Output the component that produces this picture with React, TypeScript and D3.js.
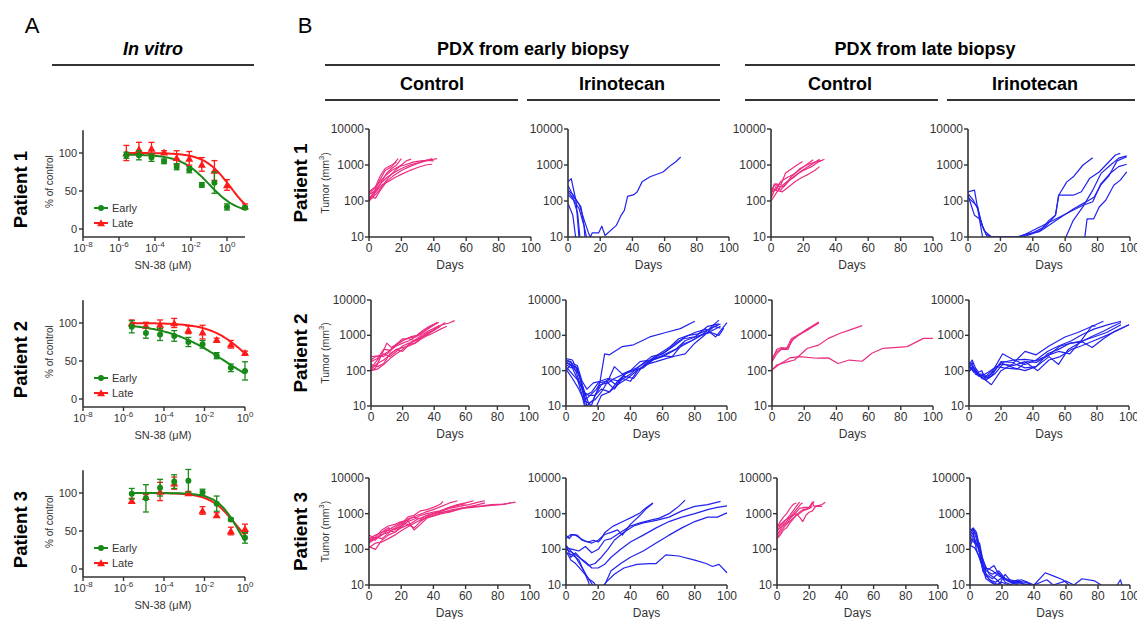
import React from "react";
import * as d3 from "d3";

type Pt = [number, number];
type Series = Pt[];

// ---------------- Panel A : in vitro dose response ----------------
const concP1: number[] = [2.56e-6, 1.28e-5, 6.4e-5, 3.2e-4, 1.6e-3, 8e-3, 0.04, 0.2, 1, 10];
const concP23: number[] = [2.56e-6, 1.28e-5, 6.4e-5, 3.2e-4, 1.6e-3, 8e-3, 0.04, 0.2, 1];

const p1EarlyMean = [97, 97, 94, 89, 82, 78, 58, 61, 29, 28];
const p1EarlyErr = [4, 6, 5, 3, 4, 4, 3, 14, 4, 2];
const p1LateMean = [100, 105, 106, 101, 94, 93, 85, 77, 58, 30];
const p1LateErr = [10, 9, 8, 2, 9, 9, 9, 13, 7, 3];

const p2EarlyMean = [95, 87, 85, 83, 75, 72, 57, 41, 37];
const p2EarlyErr = [8, 7, 8, 7, 6, 5, 4, 5, 12];
const p2LateMean = [100, 97, 98, 100, 91, 88, 78, 72, 61];
const p2LateErr = [4, 4, 6, 6, 5, 9, 2, 5, 2];

const p3EarlyMean = [99, 93, 107, 115, 116, 101, 86, 65, 41];
const p3EarlyErr = [7, 18, 11, 9, 15, 4, 10, 2, 7];
const p3LateMean = [90, 95, 102, 113, 100, 77, 71, 50, 53];
const p3LateErr = [3, 3, 12, 8, 2, 5, 3, 5, 6];

// 4-parameter logistic fits: [top, bottom, logIC50, hill]
const p1EarlyFit = [98, 20, -1.0, 0.55];
const p1LateFit = [100, 10, 0.2, 0.6];
const p2EarlyFit = [100, 0, -1.0, 0.3];
const p2LateFit = [100, 20, 0, 0.5];
const p3EarlyFit = [100, 0, -0.3, 0.8];
const p3LateFit = [100, 20, -0.5, 0.7];

const doseTickExps = [-8, -6, -4, -2, 0];
const pctTicks = [0, 50, 100];

// ---------------- Panel B : PDX tumour growth ----------------
const dayTicks = [0, 20, 40, 60, 80, 100];
const volTicks = [10, 100, 1000, 10000];

const p1EarlyControl: Series[] = [
  [[0,110],[3,180],[7,400],[10,700],[14,900],[18,1500]],
  [[0,150],[4,200],[7,300],[11,600],[14,800],[17,1000],[20,1500]],
  [[0,100],[4,150],[8,250],[12,450],[16,700],[20,1000],[23,1300],[26,1450]],
  [[0,130],[4,120],[7,200],[11,350],[15,500],[20,700],[25,900],[30,1100],[35,1300],[39,1500]],
  [[0,100],[3,150],[7,300],[11,450],[15,600],[20,800],[25,1000],[30,1150],[35,1350],[38,1400],[42,1500]],
  [[0,120],[4,180],[8,280],[12,350],[16,450],[20,550],[25,700],[30,850],[35,1000],[39,1050]],
  [[0,160],[3,220],[7,350],[10,500],[14,700],[18,900],[22,1000],[27,1200],[32,1300],[36,1350],[40,1300]],
  [[0,180],[4,250],[7,500],[10,800],[14,1000],[17,1200]],
];

const p1EarlyIrino: Series[] = [
  [[0,85],[3,40],[5,8],[7,3]],
  [[0,340],[2,420],[5,100],[7,8],[8,3]],
  [[0,180],[3,125],[6,45],[8,5]],
  [[0,270],[4,120],[8,70],[10,20],[11,5]],
  [[0,150],[4,100],[7,60],[10,20],[12,8],[13,4]],
  [[0,200],[3,150],[7,80],[10,30],[13,12],[14,10],[15,13],[19,13],[21,20],[23,11],[30,21],[33,40],[35,55],[37,135],[41,150],[43,180],[46,340],[51,470],[59,640],[64,990],[67,1230],[70,1670]],
];

const p1LateControl: Series[] = [
  [[0,200],[3,300],[6,280],[9,600],[13,800],[16,1000],[19.5,1250]],
  [[0,120],[3,250],[6,200],[9,300],[13,500],[17,700],[21,950],[26,1400]],
  [[0,100],[3,160],[6,250],[10,350],[14,450],[18,650],[22,850],[26,1100],[30,1450]],
  [[0,150],[2,300],[5,250],[8,250],[12,400],[16,550],[20,700],[25,900],[29,1200],[33,1450]],
  [[0,180],[3,200],[7,180],[11,250],[15,350],[19,450],[23,550],[27,700],[30,900]],
  [[0,230],[3,200],[6,350],[10,450],[14,550],[18,800],[22,1000],[27,1200],[31,1350]],
];

const p1LateIrino: Series[] = [
  [[0,180],[4,200],[9,10],[10,5]],
  [[0,145],[4,40],[7,32],[10,15],[14.5,10],[20,10],[30,10],[36,12],[44,14],[50,29],[54,40],[56,145],[61,340],[65,470],[71,1000],[77,1600]],
  [[0,125],[6,70],[8,26],[11,12],[15,10],[31,10],[40,13],[48,20],[54,40],[56,145],[65,145],[70,180],[75,420],[81,640],[86,1100],[91,1900],[94,2100]],
  [[0,160],[3,110],[6,60],[9,20],[12,10],[32,10],[48,23],[63,50],[71,76],[77,95],[82,300],[88,600],[93,900],[98,1050]],
  [[60,9],[65,29],[71,70],[77,200],[82,575],[88,1000],[93,1550],[98,1800]],
  [[72,9],[73.5,32],[77.6,32],[81,68],[85,105],[90,275],[94,380],[98,640]],
  [[34,10],[45,15],[55,30],[65,60],[72,90],[78,130],[82,280],[87,500],[92,1300],[98,1700]],
];

const p2EarlyControl: Series[] = [
  [[0,100],[3,120],[7,300],[10,600],[13,450],[17,600],[21,750],[25,900],[29,1000],[33,1400],[37,1800],[41,2200]],
  [[0,200],[3,250],[7,270],[11,350],[15,500],[20,700],[24,850],[28,900],[32,1200],[36,1600],[40,2000],[43,2300]],
  [[0,100],[4,110],[8,150],[12,220],[16,300],[20,400],[24,550],[28,700],[32,850],[36,1100],[40,1500],[45,2000],[47,2300]],
  [[0,120],[4,200],[8,300],[12,250],[16,350],[20,500],[24,600],[28,750],[32,1000],[36,1300],[41,1700],[45,2000],[49,2200],[53,2600]],
  [[0,250],[4,260],[8,250],[12,350],[16,550],[20,800],[24,800],[28,700],[32,900],[36,1100],[40,1400],[43,1900]],
  [[0,150],[4,130],[8,160],[12,300],[16,400],[20,450],[24,500],[28,600],[32,800],[36,1000],[40,1200],[44,1500],[48,1800]],
  [[0,180],[4,220],[8,400],[12,380],[16,500],[20,600],[24,700],[28,900],[32,1100],[36,1500],[40,2000],[42,2400]],
  [[0,110],[4,160],[8,200],[12,280],[16,400],[20,350],[24,550],[28,600],[32,900],[36,1200],[40,1400],[44,1800]],
];

const p2EarlyIrino: Series[] = [
  [[0,200],[3,180],[6,100],[9,40],[12,15],[15,20],[19,30],[21,45],[24,300],[27,280],[35,480],[42,540],[52,900],[62,1200],[71,1550],[80,2500]],
  [[0,150],[3,120],[6,130],[9,60],[12,10],[15,8],[18,20],[22,40],[27,60],[33,50],[40,80],[47,150],[53,250],[60,300],[67,500],[73,800],[80,900],[88,1800],[95,2100]],
  [[0,100],[3,150],[7,60],[10,20],[13,5]],
  [[0,220],[4,200],[7,100],[11,30],[14,12],[18,15],[22,25],[26,50],[30,130],[35,80],[40,100],[46,180],[52,200],[58,300],[64,450],[70,800],[76,1000],[82,1100],[88,1400],[95,2700]],
  [[0,130],[4,80],[8,50],[11,25],[14,20],[18,20],[22,30],[27,25],[32,40],[38,60],[44,100],[50,150],[56,250],[62,350],[68,600],[74,900],[80,1200],[87,1500],[93,900],[100,2300]],
  [[0,180],[3,150],[7,120],[10,40],[13,10],[17,15],[21,40],[26,45],[30,60],[36,80],[42,100],[48,120],[54,200],[60,250],[66,350],[72,500],[78,700],[84,1000],[90,1600],[96,2100]],
  [[0,110],[4,60],[8,30],[11,15],[14,12],[18,8],[22,20],[27,25],[32,50],[38,90],[44,120],[50,180],[56,220],[62,300],[68,400],[74,700],[80,900],[86,1100],[90,1200],[95,1000],[98,1600]],
  [[0,170],[4,130],[8,80],[12,20],[16,25],[20,45],[25,50],[30,30],[35,60],[40,50],[45,110],[50,150],[56,180],[62,220],[68,260],[74,300],[80,600],[86,1000],[92,1800],[96,1600]],
  [[0,200],[4,160],[7,140],[10,50],[13,30],[17,45],[21,50],[26,60],[31,40],[36,70],[42,60],[48,140],[54,220],[60,260],[66,250],[72,550],[78,700],[84,1000],[90,1300],[96,1800]],
];

const p2LateControl: Series[] = [
  [[0,200],[3,400],[6,450],[9,420],[12,800],[15,950],[22,1400],[29,2300]],
  [[0,220],[3,350],[6,400],[10,400],[12,700],[15,900],[22,1500],[29,2200]],
  [[0,180],[3,300],[6,420],[10,450],[13,750],[16,1000],[23,1600],[29,2400]],
  [[0,105],[3,145],[10,180],[14,200],[22,430],[29,530],[35,820],[42,1130],[48,1400],[56,1880]],
  [[0,105],[4,145],[11,230],[17,250],[28,225],[35,230],[41,160],[48,200],[56,185],[62,310],[69,430],[84,480],[94,820],[100,820]],
];

const p2LateIrino: Series[] = [
  [[0,150],[2,200],[4,120],[6,90],[8,100],[10,60],[14,70],[20,180],[28,170],[35,350],[42,280],[50,500],[60,900],[68,1200],[77,1800],[84,2500]],
  [[0,120],[2,170],[4,80],[7,70],[10,55],[14,40],[20,100],[28,160],[35,120],[42,130],[50,250],[56,150],[62,400],[70,650],[76,900],[84,1300],[90,1800],[95,2300]],
  [[0,90],[2,130],[5,90],[8,60],[11,55],[15,100],[21,300],[28,200],[35,150],[42,200],[49,350],[56,500],[64,700],[70,1000],[78,1500],[87,2000],[95,2500]],
  [[0,170],[3,120],[6,80],[9,80],[12,60],[16,80],[21,150],[28,140],[35,180],[43,100],[50,200],[57,250],[64,400],[70,500],[78,700],[86,1000],[93,1400],[100,2000]],
  [[0,130],[3,100],[6,80],[9,60],[12,80],[16,120],[21,160],[28,120],[35,100],[42,130],[49,300],[56,400],[63,600],[71,650],[77,450],[84,800],[91,1300],[100,2000]],
  [[0,100],[3,120],[6,70],[9,75],[12,90],[17,130],[22,120],[30,110],[36,180],[42,170],[50,280],[56,350],[63,300],[70,700],[77,1900],[79,1800]],
  [[0,140],[3,90],[6,80],[10,65],[14,80],[20,170],[28,200],[35,210],[42,190],[50,280],[57,500],[64,600],[71,700],[78,900],[86,1200],[95,2000]],
];

const p3EarlyControl: Series[] = [
  [[0,200],[4,250],[8,300],[12,400],[16,350],[20,500],[24,800],[28,900],[32,1200],[36,1300],[40,1500],[44,1800],[46,2200]],
  [[0,150],[4,200],[8,250],[12,350],[16,450],[20,550],[25,700],[30,900],[35,1100],[40,1300],[45,1600],[50,2000],[55,2300]],
  [[0,120],[4,100],[8,180],[12,250],[16,300],[20,400],[25,500],[30,700],[35,850],[40,1000],[45,1200],[50,1500],[55,1800],[60,2000],[65,2300]],
  [[0,180],[4,220],[8,200],[12,280],[16,400],[20,550],[24,500],[28,400],[32,600],[36,800],[40,1000],[45,1200],[50,1400],[56,1600],[62,1800],[68,2100],[72,2300]],
  [[0,110],[4,150],[8,160],[12,200],[16,250],[20,330],[25,450],[30,600],[35,750],[40,850],[45,1000],[50,1100],[55,1300],[60,1500],[66,1700],[72,2000]],
  [[0,200],[4,180],[8,300],[12,350],[16,300],[20,450],[24,700],[28,800],[32,700],[36,900],[40,1000],[46,1100],[52,1200],[58,1400],[64,1500],[70,1600],[76,1700],[82,1800],[88,2000]],
  [[0,160],[4,220],[8,350],[12,450],[16,500],[20,600],[24,650],[28,350],[32,500],[36,750],[40,900],[46,1100],[52,1300],[58,1450],[64,1550],[70,1650],[76,1800],[84,1850],[91,2100]],
  [[0,250],[4,200],[8,260],[12,300],[16,380],[20,420],[24,600],[28,700],[32,900],[36,1000],[40,1100],[44,1200],[50,1500],[55,1700],[60,1900]],
];

const p3EarlyIrino: Series[] = [
  [[0,250],[2,200],[4,260],[7,250],[10,180],[14,160],[17,180],[20,160],[22,200],[24,290],[29,440],[36,620],[41,800],[46,1050],[50,1500],[54,2000]],
  [[0,200],[3,260],[6,250],[9,200],[12,170],[16,150],[20,180],[24,260],[28,300],[32,350],[35,250],[40,500],[46,900],[50,1400],[54,1950]],
  [[0,110],[4,100],[8,90],[12,120],[16,80],[20,100],[24,180],[28,200],[34,300],[40,450],[46,550],[52,650],[58,750],[64,1000],[70,1600],[74,2400]],
  [[0,130],[3,60],[6,80],[10,50],[14,35],[18,40],[22,60],[26,100],[30,180],[36,300],[42,450],[48,550],[56,650],[64,800],[72,1200],[80,1600],[88,1800],[96,2200]],
  [[0,100],[4,80],[8,60],[12,45],[16,30],[20,30],[24,38],[28,60],[34,100],[40,160],[48,250],[56,400],[64,600],[72,800],[80,1000],[88,1300],[94,1500],[100,1650]],
  [[0,90],[3,50],[6,40],[10,25],[14,15],[17,12],[20,8],[24,10],[28,25],[34,40],[40,60],[48,90],[56,150],[64,250],[72,400],[80,600],[88,800],[94,800],[100,1050]],
  [[0,80],[4,70],[8,50],[12,20],[14,12],[16,6]],
  [[0,130],[3,90],[6,60],[10,30],[14,15],[18,8],[20,5],[22,8],[25,12],[30,20],[36,30],[44,38],[52,40],[56,40],[62,70],[70,65],[80,50],[87,40],[91,33],[95,38],[100,22]],
];

const p3LateControl: Series[] = [
  [[0,400],[2,600],[4,800],[6,1000],[8,1400],[10,1800],[12,2000]],
  [[0,300],[2,500],[4,600],[6,700],[8,900],[10,1200],[12,1600],[14,2100]],
  [[0,250],[2,350],[4,500],[6,600],[8,800],[10,1000],[12,1300],[15,1900],[16,2000]],
  [[0,200],[2,300],[4,400],[6,500],[8,700],[10,900],[12,1100],[14,1400],[17,1500],[20,1500],[22,2100],[23,1600],[26,1700],[28,1800],[30,2100]],
  [[0,500],[2,450],[4,550],[6,700],[8,800],[10,900],[12,1000],[14,800],[16,600],[18,900],[20,1100],[22,1200],[24,1600],[28,1600]],
  [[0,200],[2,250],[4,350],[6,400],[8,550],[10,700],[12,900],[14,1100],[16,1300],[20,1400],[23,2200]],
  [[0,350],[2,400],[4,450],[6,550],[8,600],[10,750],[12,900],[14,1000],[16,1200],[18,1300],[20,1400],[22,1600]],
];

const p3LateIrino: Series[] = [
  [[0,300],[2,400],[4,300],[6,120],[8,40],[10,25],[14,20],[18,25],[22,15],[26,12],[30,14],[34,10]],
  [[0,250],[2,350],[4,200],[6,80],[8,30],[12,28],[15,35],[18,20],[20,18],[24,13],[28,12],[32,14],[36,12],[40,10]],
  [[0,150],[2,250],[4,150],[7,60],[10,20],[14,15],[18,22],[22,12],[26,10]],
  [[0,120],[2,200],[4,130],[6,150],[8,50],[10,30],[14,25],[18,18],[22,15],[28,13],[34,12],[40,10],[47,22],[52,18],[58,14],[62,10]],
  [[0,200],[2,300],[4,100],[7,40],[10,15],[13,12],[16,10],[20,12],[24,10],[30,12],[36,10]],
  [[0,130],[3,110],[6,60],[9,25],[12,14],[16,12],[20,16],[25,12],[30,10]],
  [[0,350],[2,380],[4,250],[6,80],[8,25],[10,18],[14,12],[18,10],[22,20],[26,12],[30,11],[40,10],[48,14],[52,10],[60,13],[65,10],[70,15],[78,13],[82,10]],
  [[0,200],[3,150],[6,100],[9,40],[12,20],[16,15],[20,10]],
  [[92,10],[94,14],[95,10]],
];

// ---------------- styling ----------------
const FONT = "Arial, 'Liberation Sans', Helvetica, sans-serif";
const AXIS = "#333333";
const GREEN = "#178a17";
const RED = "#ff1a1a";
const PINK = "#ec2d80";
const BLUE = "#2222ee";

function logistic(fit: number[], c: number): number {
  const [top, bottom, lic, h] = fit;
  return bottom + (top - bottom) / (1 + Math.pow(10, (Math.log10(c) - lic) * h));
}

interface DoseRowProps {
  label: string;
  conc: number[];
  eM: number[]; eE: number[]; lM: number[]; lE: number[];
  eFit: number[]; lFit: number[];
  y0: number; maxExp: number;
}

function DoseRow({ label, conc, eM, eE, lM, lE, eFit, lFit, y0, maxExp }: DoseRowProps) {
  const x = d3.scaleLog().domain([1e-8, Math.pow(10, maxExp)]).range([83, 245]);
  const y = d3.scaleLinear().domain([0, 100]).range([y0, y0 - 76]);
  const top = y(130);
  const base = y(-10.5);
  const axisX = 83;
  const lo = Math.log10(conc[0]);
  const hi = Math.log10(conc[conc.length - 1]);
  const samples = d3.range(0, 101).map((i) => Math.pow(10, lo + ((hi - lo) * i) / 100));
  const eCurve = d3.line<number>().x((c) => x(c)).y((c) => y(logistic(eFit, c)))(samples) || "";
  const lCurve = d3.line<number>().x((c) => x(c)).y((c) => y(logistic(lFit, c)))(samples) || "";
  const tri = d3.symbol().type(d3.symbolTriangle).size(28)() || "";
  const mid = (top + base) / 2;

  const errBars = (m: number[], e: number[], col: string) =>
    conc.map((c, i) => (
      <g key={i} stroke={col} strokeWidth={1.3}>
        <line x1={x(c)} x2={x(c)} y1={y(m[i] - e[i])} y2={y(m[i] + e[i])} />
        <line x1={x(c) - 3} x2={x(c) + 3} y1={y(m[i] - e[i])} y2={y(m[i] - e[i])} />
        <line x1={x(c) - 3} x2={x(c) + 3} y1={y(m[i] + e[i])} y2={y(m[i] + e[i])} />
      </g>
    ));

  return (
    <g fontFamily={FONT}>
      <text x={21} y={mid + 6} transform={`rotate(-90, 21, ${mid + 6})`} textAnchor="middle" dominantBaseline="central" fontSize={18.5} fontWeight="bold" fill="#000">{label}</text>
      <text x={50} y={mid - 2} transform={`rotate(-90, 50, ${mid - 2})`} textAnchor="middle" dominantBaseline="central" fontSize={10} fill="#333">% of control</text>
      {/* data */}
      <path d={lCurve} fill="none" stroke={RED} strokeWidth={2} />
      <path d={eCurve} fill="none" stroke={GREEN} strokeWidth={2} />
      {errBars(lM, lE, RED)}
      {conc.map((c, i) => (
        <path key={"t" + i} d={tri} transform={`translate(${x(c)},${y(lM[i]) + 1})`} fill={RED} />
      ))}
      {errBars(eM, eE, GREEN)}
      {conc.map((c, i) => (
        <circle key={"c" + i} cx={x(c)} cy={y(eM[i])} r={3} fill={GREEN} />
      ))}
      {/* axes */}
      <line x1={axisX} x2={axisX} y1={top} y2={base} stroke={AXIS} strokeWidth={1.6} />
      <line x1={axisX} x2={245} y1={base} y2={base} stroke={AXIS} strokeWidth={1.6} />
      {pctTicks.map((t) => (
        <g key={t}>
          <line x1={axisX - 4} x2={axisX} y1={y(t)} y2={y(t)} stroke={AXIS} strokeWidth={1.4} />
          <text x={axisX - 6} y={y(t)} textAnchor="end" dominantBaseline="central" fontSize={11} fill="#333">{t}</text>
        </g>
      ))}
      {doseTickExps.map((e) => (
        <g key={e}>
          <line x1={x(Math.pow(10, e))} x2={x(Math.pow(10, e))} y1={base} y2={base + 4} stroke={AXIS} strokeWidth={1.4} />
          <text x={x(Math.pow(10, e))} y={base + 15} textAnchor="middle" fontSize={11} fill="#333">
            10<tspan fontSize={8} dy={-5}>{e}</tspan>
          </text>
        </g>
      ))}
      <text x={163} y={base + 32} textAnchor="middle" fontSize={11} fill="#333">SN-38 (μM)</text>
      {/* legend */}
      <g>
        <line x1={94} x2={108} y1={base - 29} y2={base - 29} stroke={GREEN} strokeWidth={2} />
        <circle cx={101} cy={base - 29} r={3} fill={GREEN} />
        <text x={112} y={base - 29} dominantBaseline="central" fontSize={11} fill="#333">Early</text>
        <line x1={94} x2={108} y1={base - 14} y2={base - 14} stroke={RED} strokeWidth={2} />
        <path d={tri} transform={`translate(101,${base - 13})`} fill={RED} />
        <text x={112} y={base - 14} dominantBaseline="central" fontSize={11} fill="#333">Late</text>
      </g>
    </g>
  );
}

interface TumorProps {
  id: string;
  data: Series[];
  color: string;
  x0: number; x1: number; yTop: number; yBot: number;
}

function TumorPanel({ id, data, color, x0, x1, yTop, yBot }: TumorProps) {
  const x = d3.scaleLinear().domain([0, 100]).range([x0, x1]);
  const y = d3.scaleLog().domain([10, 10000]).range([yBot, yTop]);
  const line = d3.line<Pt>().x((d) => x(d[0])).y((d) => y(Math.max(d[1], 1)));
  return (
    <g fontFamily={FONT}>
      <defs>
        <clipPath id={id}>
          <rect x={x0} y={yTop - 6} width={x1 - x0 + 4} height={yBot - yTop + 6} />
        </clipPath>
      </defs>
      <g clipPath={`url(#${id})`}>
        {data.map((s, i) => (
          <path key={i} d={line(s) || ""} fill="none" stroke={color} strokeWidth={1.2} strokeLinejoin="round" />
        ))}
      </g>
      <line x1={x0} x2={x0} y1={yTop} y2={yBot} stroke={AXIS} strokeWidth={1.6} />
      <line x1={x0} x2={x1} y1={yBot} y2={yBot} stroke={AXIS} strokeWidth={1.6} />
      {volTicks.map((t) => (
        <g key={t}>
          <line x1={x0 - 4} x2={x0} y1={y(t)} y2={y(t)} stroke={AXIS} strokeWidth={1.4} />
          <text x={x0 - 5} y={y(t)} textAnchor="end" dominantBaseline="central" fontSize={12} fill="#333">{t}</text>
        </g>
      ))}
      {dayTicks.map((t) => (
        <g key={t}>
          <line x1={x(t)} x2={x(t)} y1={yBot} y2={yBot + 4} stroke={AXIS} strokeWidth={1.4} />
          <text x={x(t)} y={yBot + 15} textAnchor="middle" fontSize={12} fill="#333">{t}</text>
        </g>
      ))}
      <text x={(x0 + x1) / 2} y={yBot + 32} textAnchor="middle" fontSize={12} fill="#333">Days</text>
    </g>
  );
}

const rowsB = [
  { label: "Patient 1", yTop: 129, yBot: 237, cols: [[369, 531], [568, 729], [771, 933], [968, 1130]], data: [p1EarlyControl, p1EarlyIrino, p1LateControl, p1LateIrino] },
  { label: "Patient 2", yTop: 300, yBot: 406, cols: [[371, 529], [566, 727], [772, 933], [969, 1129]], data: [p2EarlyControl, p2EarlyIrino, p2LateControl, p2LateIrino] },
  { label: "Patient 3", yTop: 478, yBot: 585, cols: [[369, 530], [566, 727], [777, 938], [970, 1130]], data: [p3EarlyControl, p3EarlyIrino, p3LateControl, p3LateIrino] },
];

export default function App() {
  const colColors = [PINK, BLUE, PINK, BLUE];
  return (
    <svg width={1137} height={619} style={{ position: "absolute", left: 0, top: 0, background: "#fff" }} fontFamily={FONT}>
      <rect x={0} y={0} width={1137} height={619} fill="#fff" />
      {/* Panel letters */}
      <text x={32} y={33} textAnchor="middle" fontSize={22} fill="#000">A</text>
      <text x={305} y={33} textAnchor="middle" fontSize={22} fill="#000">B</text>
      {/* Panel A header */}
      <text x={153} y={55} textAnchor="middle" fontSize={18} fontWeight="bold" fontStyle="italic" fill="#000">In vitro</text>
      <line x1={52} x2={254} y1={65} y2={65} stroke={AXIS} strokeWidth={2} />
      {/* Panel B headers */}
      <text x={533} y={55} textAnchor="middle" fontSize={18} fontWeight="bold" fill="#000">PDX from early biopsy</text>
      <line x1={325} x2={720} y1={65} y2={65} stroke={AXIS} strokeWidth={2} />
      <text x={925} y={55} textAnchor="middle" fontSize={18} fontWeight="bold" fill="#000">PDX from late biopsy</text>
      <line x1={745} x2={1135} y1={65} y2={65} stroke={AXIS} strokeWidth={2} />
      <text x={432} y={90} textAnchor="middle" fontSize={18} fontWeight="bold" fill="#000">Control</text>
      <line x1={325} x2={518} y1={100} y2={100} stroke={AXIS} strokeWidth={2} />
      <text x={622} y={90} textAnchor="middle" fontSize={18} fontWeight="bold" fill="#000">Irinotecan</text>
      <line x1={527} x2={720} y1={100} y2={100} stroke={AXIS} strokeWidth={2} />
      <text x={840} y={90} textAnchor="middle" fontSize={18} fontWeight="bold" fill="#000">Control</text>
      <line x1={745} x2={938} y1={100} y2={100} stroke={AXIS} strokeWidth={2} />
      <text x={1035} y={90} textAnchor="middle" fontSize={18} fontWeight="bold" fill="#000">Irinotecan</text>
      <line x1={947} x2={1135} y1={100} y2={100} stroke={AXIS} strokeWidth={2} />

      {/* Panel A rows */}
      <DoseRow label="Patient 1" conc={concP1} eM={p1EarlyMean} eE={p1EarlyErr} lM={p1LateMean} lE={p1LateErr} eFit={p1EarlyFit} lFit={p1LateFit} y0={229} maxExp={1} />
      <DoseRow label="Patient 2" conc={concP23} eM={p2EarlyMean} eE={p2EarlyErr} lM={p2LateMean} lE={p2LateErr} eFit={p2EarlyFit} lFit={p2LateFit} y0={399} maxExp={0} />
      <DoseRow label="Patient 3" conc={concP23} eM={p3EarlyMean} eE={p3EarlyErr} lM={p3LateMean} lE={p3LateErr} eFit={p3EarlyFit} lFit={p3LateFit} y0={569} maxExp={0} />

      {/* Panel B rows */}
      {rowsB.map((r, ri) => {
        const mid = (r.yTop + r.yBot) / 2;
        return (
          <g key={ri}>
            <text x={300} y={mid} transform={`rotate(-90, 300, ${mid})`} textAnchor="middle" dominantBaseline="central" fontSize={19} fontWeight="bold" fill="#000">{r.label}</text>
            <text x={325} y={mid} transform={`rotate(-90, 325, ${mid})`} textAnchor="middle" dominantBaseline="central" fontSize={10.5} fill="#333">
              Tumor (mm<tspan fontSize={7.5} dy={-4}>3</tspan><tspan dy={4}>)</tspan>
            </text>
            {r.cols.map((c, ci) => (
              <TumorPanel key={ci} id={`clip-${ri}-${ci}`} data={r.data[ci]} color={colColors[ci]} x0={c[0]} x1={c[1]} yTop={r.yTop} yBot={r.yBot} />
            ))}
          </g>
        );
      })}
    </svg>
  );
}
